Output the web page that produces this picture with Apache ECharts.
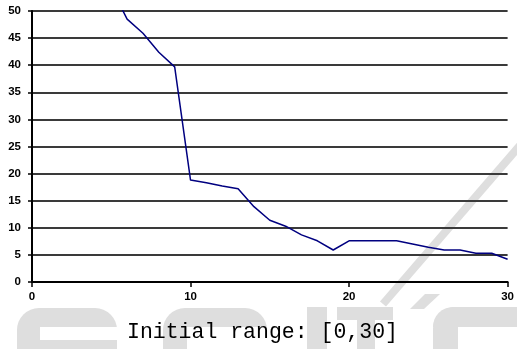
<!DOCTYPE html>
<html>
<head>
<meta charset="utf-8">
<script src="https://cdn.jsdelivr.net/npm/echarts@6/dist/echarts.min.js"></script>
<style>html,body{margin:0;padding:0;background:#fff}#c{width:517px;height:349px}</style>
</head>
<body>
<div id="c"></div>
<script>
var xValues = [5, 6, 7, 8, 9, 10, 11, 12, 13, 14, 15, 16, 17, 18, 19, 20, 21, 22, 23, 24, 25, 26, 27, 28, 29, 30];
var yValues = [54.3, 48.5, 45.9, 42.4, 39.7, 18.8, 18.3, 17.7, 17.2, 13.9, 11.4, 10.3, 8.7, 7.6, 5.9, 7.6, 7.6, 7.6, 7.6, 7.0, 6.4, 5.9, 5.9, 5.3, 5.3, 4.2];
var titleText = 'Initial range: [0,30]';

var chart = echarts.init(document.getElementById('c'), null, {renderer: 'canvas'});
var pts = xValues.map(function (x, i) { return [x, yValues[i]]; });
var wm = '#dedede';
var wh = '#ffffff';
function r(x, y, w, h, fill, rad, z) {
  return {type: 'rect', z: z || -10, shape: {x: x, y: y, width: w, height: h, r: rad || 0}, style: {fill: fill}};
}
chart.setOption({
  animation: false,
  backgroundColor: '#fff',
  graphic: [
    {type: 'line', z: -10, shape: {x1: 522, y1: 143, x2: 383, y2: 304}, style: {stroke: wm, lineWidth: 8}},
    r(17, 308, 100, 41, wm, [22, 22, 0, 0]),
    r(40, 327, 77, 13, wh, 0, -9),
    r(163, 308, 104, 41, wm, [22, 22, 0, 0]),
    r(187, 327, 80, 22, wh, 0, -9),
    r(307, 307, 20, 42, wm),
    r(337, 307, 56, 13, wm),
    r(357, 307, 18, 42, wm),
    {type: 'polygon', z: -10, shape: {points: [[425, 294], [440, 294], [424, 309], [410, 309]]}, style: {fill: wm}},
    r(433, 307, 84, 20, wm, [22, 0, 0, 0]),
    r(433, 307, 25, 42, wm, [22, 0, 0, 0])
  ],
  title: {
    text: titleText,
    left: 122,
    top: 316,
    textStyle: {fontFamily: 'Liberation Mono', fontSize: 21.5, fontWeight: 'normal', color: '#000'}
  },
  grid: {left: 32, right: 8, top: 11, bottom: 67, containLabel: false},
  xAxis: {
    type: 'value', min: 0, max: 30, interval: 10,
    axisLine: {show: true, lineStyle: {color: '#000', width: 2}},
    axisTick: {show: true, length: 5, lineStyle: {color: '#000', width: 1.5}},
    axisLabel: {fontFamily: 'Liberation Sans', fontWeight: 'bold', fontSize: 11.5, color: '#000', margin: 9},
    splitLine: {show: false}
  },
  yAxis: {
    type: 'value', min: 0, max: 50, interval: 5,
    axisLine: {show: true, lineStyle: {color: '#000', width: 2}},
    axisTick: {show: true, length: 4, lineStyle: {color: '#000', width: 1.5}},
    axisLabel: {fontFamily: 'Liberation Sans', fontWeight: 'bold', fontSize: 11.5, color: '#000', margin: 11},
    splitLine: {show: true, lineStyle: {color: '#3a3a3a', width: 2}}
  },
  series: [{
    type: 'line',
    data: pts,
    showSymbol: false,
    clip: true,
    lineStyle: {color: '#000080', width: 1.5},
    z: 5
  }]
});
</script>
</body>
</html>
